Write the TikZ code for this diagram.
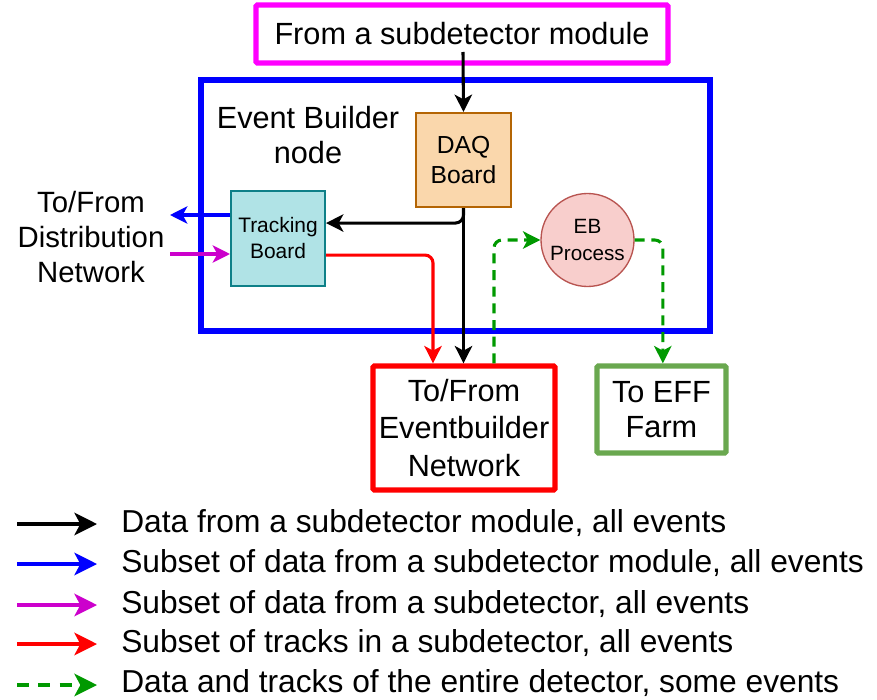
\documentclass[tikz,border=0pt]{standalone}
\usepackage{fontspec}
\setmainfont{Liberation Sans}
\usetikzlibrary{arrows.meta}

\definecolor{srcline}{HTML}{FF00FF}
\definecolor{daqfill}{HTML}{FAD7AC}
\definecolor{daqline}{HTML}{B46504}
\definecolor{tbfill}{HTML}{B0E3E6}
\definecolor{tbline}{HTML}{0E8088}
\definecolor{ebfill}{HTML}{F8CECC}
\definecolor{ebline}{HTML}{B85450}
\definecolor{effline}{HTML}{6AA84F}
\definecolor{dgreen}{HTML}{009900}
\definecolor{purp}{HTML}{CC00CC}

\begin{document}
\begin{tikzpicture}[x=0.75pt, y=-0.75pt,
    bigtext/.style={font=\fontsize{23}{26.5}\selectfont, align=center},
    frame/.style={draw, line width=4pt, rounded corners=1pt, text=black, bigtext},
    board/.style={draw, line width=1.5pt, align=center},
    conn/.style={line width=2.3pt, rounded corners=6pt, -{Stealth[length=13pt, width=13pt, inset=3.5pt]}},
    blk/.style={conn, black},
    blu/.style={conn, blue},
    mag/.style={conn, purp},
    rdd/.style={conn, red},
    grn/.style={conn, dgreen, dash pattern=on 7.5pt off 5pt},
    legarrow/.style={line width=2.3pt, -{Stealth[length=17pt, width=17pt, inset=4.5pt]}},
    legtext/.style={anchor=base west, inner sep=0pt, font=\fontsize{23.8}{27}\selectfont}]
    \useasboundingbox (0,0) rectangle (877,699);

    % Draw frames
    \node[frame, draw=srcline, minimum width=309pt, minimum height=43.5pt] (src) at (462,34) {From a subdetector module};
    \node[draw, blue, line width=4.5pt, minimum width=381.75pt, minimum height=188.25pt] (ebnode) at (455.5,205.5) {};
    \node[bigtext] (ebtitle) at (308,135) {Event Builder\\node};
    \node[frame, draw=red, minimum width=136.5pt, minimum height=93pt, font=\fontsize{23}{28}\selectfont] (ebn) at (464,428) {To/From\\Eventbuilder\\Network};
    \node[frame, draw=effline, minimum width=96.75pt, minimum height=65.25pt] (eff) at (661.5,409.5) {To EFF\\Farm};
    \node[bigtext, font=\fontsize{22}{26}\selectfont] (dist) at (91,237) {To/From\\Distribution\\Network};

    % Draw boards
    \node[board, draw=daqline, fill=daqfill, minimum width=71.25pt, minimum height=70.5pt, font=\fontsize{18.5}{22.5}\selectfont] (daq) at (463.5,160) {DAQ\\Board};
    \node[board, draw=tbline, fill=tbfill, minimum width=70.5pt, minimum height=71.25pt, font=\fontsize{15.7}{19.5}\selectfont] (tb) at (278,238.5) {Tracking\\Board};
    \node[circle, draw=ebline, fill=ebfill, line width=1pt, minimum size=69.75pt, inner sep=0pt, align=center, font=\fontsize{15.5}{20.5}\selectfont] (ebp) at (587.5,240) {EB\\Process};

    % Draw data flow
    \coordinate (srcout) at (463,52);
    \coordinate (distout) at (170,215);
    \coordinate (distin) at (170,254);
    \draw[blk] (srcout) -- (daq.north);
    \draw[blk] (daq.south) |- ([yshift=11.6pt]tb.east);
    \draw[blk] (daq.south) -- (daq.south |- ebn.north);
    \draw[rdd] ([yshift=-12.4pt]tb.east) -| ([xshift=-23.25pt]ebn.north);
    \draw[blu] (tb.west |- distout) -- (distout);
    \draw[mag] (distin) -- (tb.west |- distin);
    \draw[grn] ([xshift=22.5pt]ebn.north) |- (ebp.west);
    \draw[grn] (ebp.east) -| ([xshift=1pt]eff.north);

    % Draw legend
    \coordinate (la) at (17,524);
    \coordinate (lb) at (17,564);
    \coordinate (lc) at (17,605);
    \coordinate (ld) at (17,644);
    \coordinate (le) at (17,685);
    \node[legtext] (ta) at (121,532) {Data from a subdetector module, all events};
    \node[legtext] (tb2) at (121,572) {Subset of data from a subdetector module, all events};
    \node[legtext] (tc) at (121,613) {Subset of data from a subdetector, all events};
    \node[legtext] (td) at (121,652) {Subset of tracks in a subdetector, all events};
    \node[legtext] (te) at (121,692) {Data and tracks of the entire detector, some events};
    \draw[legarrow, black] (la) -- ++(80,0);
    \draw[legarrow, blue] (lb) -- ++(80,0);
    \draw[legarrow, purp] (lc) -- ++(80,0);
    \draw[legarrow, red] (ld) -- ++(80,0);
    \draw[legarrow, dgreen, dash pattern=on 9pt off 7pt] (le) -- ++(80,0);
\end{tikzpicture}
\end{document}
